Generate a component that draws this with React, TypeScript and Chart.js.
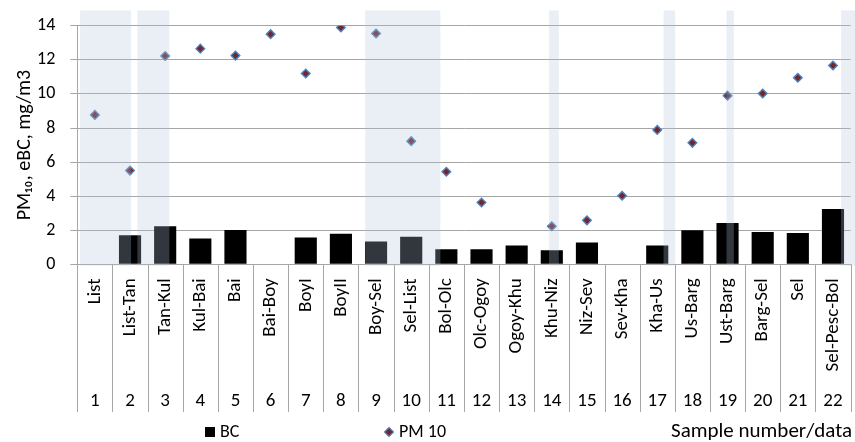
import React, { useEffect, useRef } from 'react';
import { Chart, registerables } from 'chart.js';

Chart.register(...registerables);

// Sample route names (upper row of the category axis) and their numbers (lower row)
const sampleNames = [
  'List', 'List-Tan', 'Tan-Kul', 'Kul-Bai', 'Bai', 'Bai-Boy', 'BoyI', 'BoyII',
  'Boy-Sel', 'Sel-List', 'Bol-Olc', 'Olc-Ogoy', 'Ogoy-Khu', 'Khu-Niz', 'Niz-Sev',
  'Sev-Kha', 'Kha-Us', 'Us-Barg', 'Ust-Barg', 'Barg-Sel', 'Sel', 'Sel-Pesc-Bol',
];
const sampleNumbers = [
  '1', '2', '3', '4', '5', '6', '7', '8', '9', '10', '11',
  '12', '13', '14', '15', '16', '17', '18', '19', '20', '21', '22',
];

// Black carbon, mg/m3
const bcValues = [
  null, 1.71, 2.23, 1.52, 2.02, null, 1.57, 1.79, 1.34, 1.61, 0.89,
  0.89, 1.11, 0.83, 1.28, null, 1.11, 2.0, 2.43, 1.9, 1.83, 3.24,
];
// PM10, mg/m3
const pm10Values = [
  8.77, 5.5, 12.23, 12.66, 12.25, 13.51, 11.2, 13.9, 13.55, 7.23, 5.43,
  3.63, null, 2.23, 2.58, 4.02, 7.89, 7.13, 9.9, 10.03, 10.95, 11.67,
];

// Y axis range
const yMin = 0;
const yMax = 14;
const yStep = 2;

// Shaded spans along the sample axis (in category index units)
const shadeFrom = [-0.42, 1.21, 7.69, 12.92, 16.18, 17.97, 21.23];
const shadeTo = [1.03, 2.12, 9.83, 13.2, 16.51, 18.18, 21.7];
const shadeTop = 14.9;
const shadeBottom = -0.08;

const FONT = 'Carlito, Calibri, Lato, "Noto Sans", sans-serif';
const GRID = '#a6a6a6';

const shadePlugin = {
  id: 'shadeSpans',
  afterDatasetsDraw(chart: any) {
    const { ctx } = chart;
    const xs = chart.scales.x;
    const ys = chart.scales.y;
    ctx.save();
    ctx.fillStyle = 'rgba(178, 196, 220, 0.28)';
    shadeFrom.forEach((from, i) => {
      const x0 = xs.getPixelForValue(from);
      const x1 = xs.getPixelForValue(shadeTo[i]);
      const y0 = ys.getPixelForValue(shadeTop);
      const y1 = ys.getPixelForValue(shadeBottom);
      ctx.fillRect(x0, y0, x1 - x0, y1 - y0);
    });
    ctx.restore();
  },
};

// Vertical separators running through both rows of category labels
const separatorPlugin = {
  id: 'categorySeparators',
  afterDraw(chart: any) {
    const { ctx } = chart;
    const xs = chart.scales.x;
    const x2 = chart.scales.x2;
    const w = xs.getPixelForValue(1) - xs.getPixelForValue(0);
    const start = xs.getPixelForValue(0) - w / 2;
    ctx.save();
    ctx.strokeStyle = GRID;
    ctx.lineWidth = 1;
    for (let i = 0; i <= sampleNames.length; i++) {
      const x = Math.round(start + i * w) + 0.5;
      ctx.beginPath();
      ctx.moveTo(x, xs.top);
      ctx.lineTo(x, x2.bottom);
      ctx.stroke();
    }
    ctx.restore();
  },
};

// Legend row with the axis caption at its right end
const legendPlugin = {
  id: 'legendRow',
  afterDraw(chart: any) {
    const { ctx } = chart;
    const bc = chart.data.datasets[0];
    const pm = chart.data.datasets[1];
    const y = 432;
    ctx.save();
    ctx.textBaseline = 'middle';
    ctx.font = `18px ${FONT}`;
    ctx.fillStyle = bc.backgroundColor;
    ctx.fillRect(205, y - 5, 10, 10);
    ctx.fillStyle = '#000';
    ctx.textAlign = 'left';
    ctx.fillText(bc.label, 220, y);

    ctx.beginPath();
    ctx.moveTo(389, y - 4.5);
    ctx.lineTo(393.5, y);
    ctx.lineTo(389, y + 4.5);
    ctx.lineTo(384.5, y);
    ctx.closePath();
    ctx.fillStyle = pm.backgroundColor;
    ctx.fill();
    ctx.strokeStyle = pm.borderColor;
    ctx.lineWidth = 1.2;
    ctx.stroke();
    ctx.fillStyle = '#000';
    ctx.fillText(pm.label, 399, y);

    ctx.font = `21px ${FONT}`;
    ctx.textAlign = 'right';
    ctx.fillText('Sample number/data', 852, y);
    ctx.restore();
  },
};

export default function App() {
  const canvasRef = useRef<HTMLCanvasElement>(null);

  useEffect(() => {
    if (!canvasRef.current) return;
    const chart = new Chart(canvasRef.current, {
      type: 'bar',
      data: {
        labels: sampleNames,
        datasets: [
          {
            type: 'bar',
            label: 'BC',
            data: bcValues,
            backgroundColor: '#000000',
            borderWidth: 0,
            categoryPercentage: 1,
            barPercentage: 0.63,
            order: 2,
          },
          {
            type: 'line',
            label: 'PM 10',
            data: pm10Values,
            showLine: false,
            pointStyle: 'rectRot',
            pointRadius: 4.3,
            pointBackgroundColor: '#74262a',
            pointBorderColor: '#4f81bd',
            pointBorderWidth: 1.4,
            backgroundColor: '#74262a',
            borderColor: '#4f81bd',
            order: 1,
          },
        ],
      },
      options: {
        responsive: false,
        animation: false,
        events: [],
        layout: { padding: { top: 24.3, right: 9.5, bottom: 30, left: 0 } },
        plugins: {
          legend: { display: false },
          tooltip: { enabled: false },
        },
        scales: {
          x: {
            type: 'category',
            position: 'bottom',
            offset: true,
            weight: 0,
            grid: { display: false, drawTicks: false, offset: true },
            border: { display: true, color: GRID },
            ticks: {
              autoSkip: false,
              minRotation: 90,
              maxRotation: 90,
              padding: 14,
              color: '#000',
              font: { family: FONT, size: 19 },
            },
            afterFit: (s: any) => { s.height = 120; },
          },
          x2: {
            type: 'category',
            position: 'bottom',
            labels: sampleNumbers,
            offset: true,
            weight: 1,
            grid: { display: false, drawTicks: false },
            border: { display: false },
            ticks: {
              autoSkip: false,
              maxRotation: 0,
              padding: 6,
              color: '#000',
              font: { family: FONT, size: 19 },
            },
            afterFit: (s: any) => { s.height = 27.7; },
          },
          y: {
            min: yMin,
            max: yMax,
            grid: { color: GRID, lineWidth: 1, drawTicks: true, tickLength: 7 },
            border: { display: true, color: GRID },
            ticks: {
              stepSize: yStep,
              padding: 15,
              color: '#000',
              font: { family: FONT, size: 18 },
            },
            title: {
              display: true,
              text: 'PM\u2081\u2080, eBC, mg/m3',
              color: '#000',
              font: { family: FONT, size: 20 },
              padding: { top: 13, bottom: 0 },
            },
            afterFit: (s: any) => { s.width = 77.3; },
          },
        },
      },
      plugins: [shadePlugin, separatorPlugin, legendPlugin],
    });
    return () => chart.destroy();
  }, []);

  return (
    <div
      style={{
        position: 'fixed', left: 0, top: 0, width: 855, height: 442,
        overflow: 'hidden', background: '#ffffff',
      }}
    >
      <canvas ref={canvasRef} width={870} height={442} style={{ display: 'block' }} />
    </div>
  );
}
